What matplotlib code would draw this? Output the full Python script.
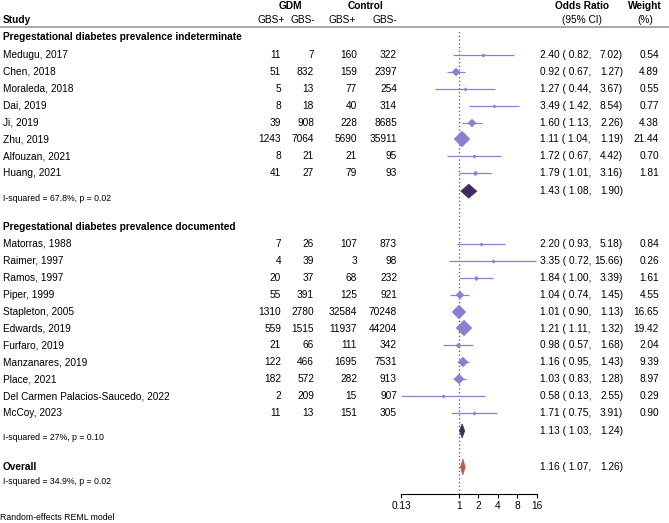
import matplotlib
matplotlib.use("Agg")
import matplotlib.pyplot as plt
import numpy as np
from matplotlib.patches import Polygon

plt.rcParams['font.family'] = ['Liberation Sans', 'DejaVu Sans']

# group 1: pregestational diabetes prevalence indeterminate
g1_names = ["Medugu, 2017", "Chen, 2018", "Moraleda, 2018", "Dai, 2019", "Ji, 2019",
            "Zhu, 2019", "Alfouzan, 2021", "Huang, 2021"]
g1_gdm_pos = [11, 51, 5, 8, 39, 1243, 8, 41]
g1_gdm_neg = [7, 832, 13, 18, 908, 7064, 21, 27]
g1_ctl_pos = [160, 159, 77, 40, 228, 5690, 21, 79]
g1_ctl_neg = [322, 2397, 254, 314, 8685, 35911, 95, 93]
g1_or = [2.40, 0.92, 1.27, 3.49, 1.60, 1.11, 1.72, 1.79]
g1_lo = [0.82, 0.67, 0.44, 1.42, 1.13, 1.04, 0.67, 1.01]
g1_hi = [7.02, 1.27, 3.67, 8.54, 2.26, 1.19, 4.42, 3.16]
g1_w = [0.54, 4.89, 0.55, 0.77, 4.38, 21.44, 0.70, 1.81]
g1_sub = (1.43, 1.08, 1.90)

# group 2: pregestational diabetes prevalence documented
g2_names = ["Matorras, 1988", "Raimer, 1997", "Ramos, 1997", "Piper, 1999",
            "Stapleton, 2005", "Edwards, 2019", "Furfaro, 2019", "Manzanares, 2019",
            "Place, 2021", "Del Carmen Palacios-Saucedo, 2022", "McCoy, 2023"]
g2_gdm_pos = [7, 4, 20, 55, 1310, 559, 21, 122, 182, 2, 11]
g2_gdm_neg = [26, 39, 37, 391, 2780, 1515, 66, 466, 572, 209, 13]
g2_ctl_pos = [107, 3, 68, 125, 32584, 11937, 111, 1695, 282, 15, 151]
g2_ctl_neg = [873, 98, 232, 921, 70248, 44204, 342, 7531, 913, 907, 305]
g2_or = [2.20, 3.35, 1.84, 1.04, 1.01, 1.21, 0.98, 1.16, 1.03, 0.58, 1.71]
g2_lo = [0.93, 0.72, 1.00, 0.74, 0.90, 1.11, 0.57, 0.95, 0.83, 0.13, 0.75]
g2_hi = [5.18, 15.66, 3.39, 1.45, 1.13, 1.32, 1.68, 1.43, 1.28, 2.55, 3.91]
g2_w = [0.84, 0.26, 1.61, 4.55, 16.65, 19.42, 2.04, 9.39, 8.97, 0.29, 0.90]
g2_sub = (1.13, 1.03, 1.24)

overall = (1.16, 1.07, 1.26)

ticks = [0.13, 1, 2, 4, 8, 16]
tick_labels = ["0.13", "1", "2", "4", "8", "16"]

W, H = 669, 523
FS = 7.3
SMALL = 6.3
PURPLE = "#8a80d2"
DARK = "#3f2c58"
RED = "#c4544e"

fig = plt.figure(figsize=(W / 100, H / 100), dpi=100)
bg = fig.add_axes([0, 0, 1, 1])
bg.set_xlim(0, W)
bg.set_ylim(H, 0)
bg.axis('off')

# forest panel, y in pixel units
top, bottom = 27, 494
x0, x1 = 401, 537
ax = fig.add_axes([x0 / W, (H - bottom) / H, (x1 - x0) / W, (bottom - top) / H])
ax.patch.set_alpha(0)
ax.set_xscale('log')
ax.set_xlim(0.13, 16)
ax.set_ylim(bottom, top)
for s in ['top', 'right', 'left']:
    ax.spines[s].set_visible(False)
ax.spines['bottom'].set_linewidth(0.8)
ax.set_yticks([])
ax.set_xticks(ticks)
ax.set_xticklabels(tick_labels, fontsize=FS)
ax.minorticks_off()
ax.tick_params(axis='x', length=3, width=0.8, pad=2)
ax.axvline(1, ymin=0, ymax=(bottom - 30) / (bottom - top), color="#555555",
           lw=0.9, ls=(0, (1, 2)))

# header
bg.axhline(27, color="#999999", lw=1.2)
bg.text(3, 20, "Study", fontsize=FS, fontweight='bold', va='center')
bg.text(290, 6, "GDM", fontsize=FS, fontweight='bold', va='center', ha='center')
bg.text(366, 6, "Control", fontsize=FS, fontweight='bold', va='center', ha='center')
for xr, lab in [(285, "GBS+"), (315, "GBS-"), (356, "GBS+"), (397, "GBS-")]:
    bg.text(xr, 20, lab, fontsize=FS, va='center', ha='right')
bg.text(582, 6, "Odds Ratio", fontsize=FS, fontweight='bold', va='center', ha='center')
bg.text(582, 20, "(95% CI)", fontsize=FS, va='center', ha='center')
bg.text(645, 6, "Weight", fontsize=FS, fontweight='bold', va='center', ha='center')
bg.text(645, 20, "(%)", fontsize=FS, va='center', ha='center')


def or_text(y, est, lo, hi):
    bg.text(540, y, f"{est:.2f} ( {lo:.2f},", fontsize=FS, va='center', ha='left')
    bg.text(623, y, f"{hi:.2f})", fontsize=FS, va='center', ha='right')


def pooled(y, vals, color, h=7):
    est, lo, hi = vals
    ax.add_patch(Polygon([(lo, y), (est, y - h), (hi, y), (est, y + h)],
                         closed=True, facecolor=color, edgecolor=color, lw=0.5))
    or_text(y, est, lo, hi)


def group(title, ty, y0, names, gp, gn, cp, cn, ors, los, his, ws, sub, isq):
    bg.text(3, ty, title, fontsize=FS, fontweight='bold', va='center')
    step = 16.9
    for i in range(len(names)):
        y = y0 + i * step
        bg.text(3, y, names[i], fontsize=FS, va='center')
        for xr, v in [(281, gp[i]), (314, gn[i]), (357, cp[i]), (397, cn[i])]:
            bg.text(xr, y, str(v), fontsize=FS, va='center', ha='right')
        or_text(y, ors[i], los[i], his[i])
        bg.text(659, y, f"{ws[i]:.2f}", fontsize=FS, va='center', ha='right')
        ax.hlines(y, los[i], his[i], color=PURPLE, lw=0.9)
        ms = max(1.8 * np.sqrt(ws[i]), 1.8)
        ax.plot(ors[i], y, marker='D', ms=ms, color=PURPLE, mec=PURPLE, mew=0.3)
    ys = y0 + len(names) * step + 1
    pooled(ys, sub, DARK)
    bg.text(3, ys + 7, isq, fontsize=SMALL, va='center')


group("Pregestational diabetes prevalence indeterminate", 37, 55,
      g1_names, g1_gdm_pos, g1_gdm_neg, g1_ctl_pos, g1_ctl_neg,
      g1_or, g1_lo, g1_hi, g1_w, g1_sub, "I-squared = 67.8%, p = 0.02")
group("Pregestational diabetes prevalence documented", 227, 244,
      g2_names, g2_gdm_pos, g2_gdm_neg, g2_ctl_pos, g2_ctl_neg,
      g2_or, g2_lo, g2_hi, g2_w, g2_sub, "I-squared = 27%, p = 0.10")

bg.text(3, 467, "Overall", fontsize=FS, fontweight='bold', va='center')
pooled(467, overall, RED, h=8)
bg.text(3, 481, "I-squared = 34.9%, p = 0.02", fontsize=SMALL, va='center')
bg.text(0, 518, "Random-effects REML model", fontsize=SMALL, va='center')

fig.savefig("out.png", dpi=100)
